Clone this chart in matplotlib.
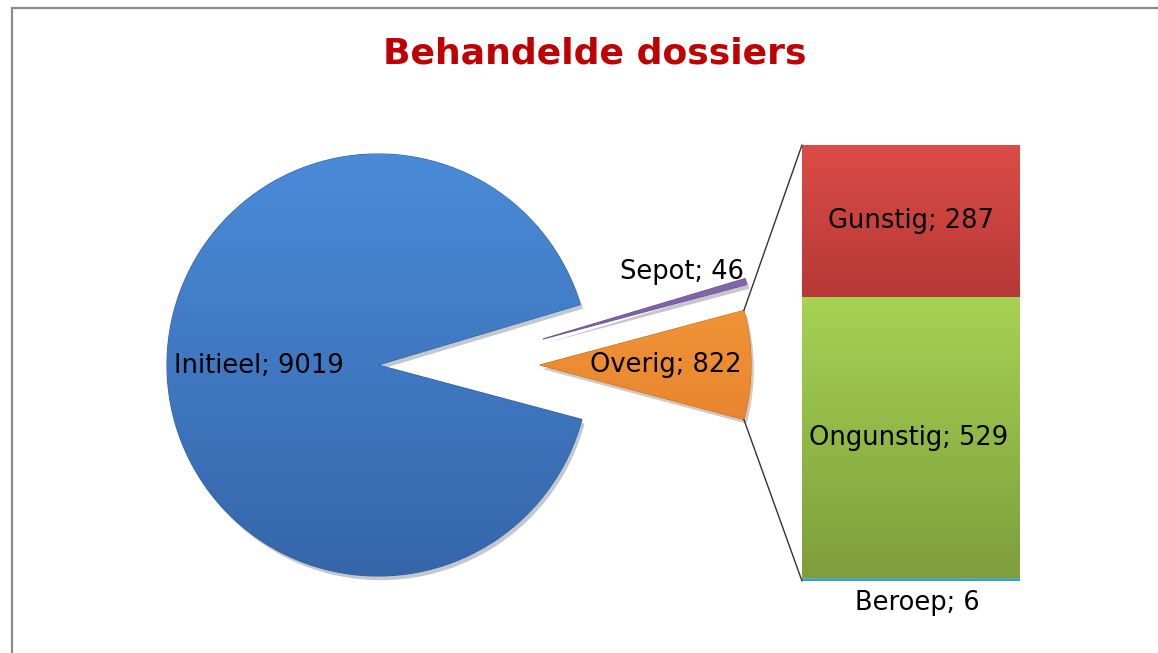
import matplotlib
matplotlib.use("Agg")
import matplotlib.pyplot as plt
import matplotlib.patheffects as pe
from matplotlib.colors import to_rgb
from matplotlib.patches import ConnectionPatch, Rectangle
import numpy as np

# data
pie_labels = ["Overig", "Sepot", "Initieel"]
pie_values = [822, 46, 9019]
pie_colors = ["#F58A2E", "#7F63A8", "#3E7DCB"]

bar_labels = ["Beroep", "Ongunstig", "Gunstig"]
bar_values = [6, 529, 287]
bar_colors = ["#4BACC6", "#8DB544", "#CF4441"]

# top / bottom shade for the gradient fill
shades = {
    "#F58A2E": ("#FBA547", "#DD7420"),
    "#7F63A8": ("#8E72B8", "#6A4F90"),
    "#3E7DCB": ("#4A8BD8", "#3666AA"),
    "#4BACC6": ("#5BBAD4", "#3A93AC"),
    "#8DB544": ("#A5D252", "#7E9E3C"),
    "#CF4441": ("#DC4C48", "#B53935"),
}


def grad_fill(axis, patch, extent, color):
    top, bot = (np.array(to_rgb(c)) for c in shades[color])
    t = np.linspace(0, 1, 64)[:, None]
    img = (top * (1 - t) + bot * t)[:, None, :]
    im = axis.imshow(img, extent=extent, aspect="auto", origin="upper",
                     interpolation="bilinear", zorder=patch.get_zorder() + 0.01)
    im.set_clip_path(patch)


W, H = 1158, 653
fig = plt.figure(figsize=(W / 100, H / 100), dpi=100)
fig.patch.set_facecolor("white")

# chart border
fig.patches.append(Rectangle((12 / W, -0.05), 1.1, 1 - 8 / H + 0.05,
                             transform=fig.transFigure, fill=False,
                             edgecolor="#8c8c8c", linewidth=1.6))

fig.text(595 / W, 1 - 53 / H, "Behandelde dossiers", ha="center", va="center",
         fontsize=26, fontweight="bold", color="#C00000")

# pie, in pixel units
ax = fig.add_axes([0, 0, 1, 1])

cx, cy, r = 378, H - 365, 211
total = sum(pie_values)
start = -pie_values[0] / total * 360 / 2
shadow = [pe.SimplePatchShadow(offset=(2, -3), alpha=0.25), pe.Normal()]
wedges, _ = ax.pie(pie_values, colors=pie_colors, startangle=start,
                   center=(cx, cy), radius=r, explode=[162, 0, 0],
                   wedgeprops=dict(linewidth=0.8, edgecolor="#2f5f9e"))
wedges[0].set_edgecolor("#c86a1a")
wedges[1].set_edgecolor("#6a4f90")
# sepot slice pulled out separately
wedges[1].set_center((cx + 165, cy + 26))
for w, col in zip(wedges, pie_colors):
    w.set_path_effects(shadow)
    wx, wy = w.center
    grad_fill(ax, w, [wx - r, wx + r, wy - r, wy + r], col)

ax.set_xlim(0, W)
ax.set_ylim(0, H)
ax.set_aspect("equal")
ax.axis("off")

fs = 18.5
ax.text(259, H - 366, f"{pie_labels[2]}; {pie_values[2]}", ha="center", va="center", fontsize=fs, zorder=5)
ax.text(682, H - 272, f"{pie_labels[1]}; {pie_values[1]}", ha="center", va="center", fontsize=fs, zorder=5)
ax.text(666, H - 365, f"{pie_labels[0]}; {pie_values[0]}", ha="center", va="center", fontsize=fs, zorder=5)

# bar of the "Overig" part
ax2 = fig.add_axes([802 / W, (H - 581) / H, 218 / W, 436 / H])
bottom = 0
for lab, val, col in zip(bar_labels, bar_values, bar_colors):
    bars = ax2.bar(0.5, val, width=1, bottom=bottom, color=col, edgecolor=col,
                   linewidth=0.5, path_effects=shadow)
    grad_fill(ax2, bars[0], [0, 1, bottom, bottom + val], col)
    bottom += val
ax2.set_xlim(0, 1)
ax2.set_ylim(0, sum(bar_values))
ax2.axis("off")

ax2.text(0.49, 6 + 529 / 2, f"{bar_labels[1]}; {bar_values[1]}", ha="center", va="center", fontsize=fs, zorder=5)
ax2.text(0.5, 535 + 287 / 2, f"{bar_labels[2]}; {bar_values[2]}", ha="center", va="center", fontsize=fs, zorder=5)
ax2.text(0.53, -42, f"{bar_labels[0]}; {bar_values[0]}", ha="center", va="center", fontsize=fs, clip_on=False)

# connector lines from the Overig slice to the bar
ocx, ocy = wedges[0].center
for ang, yb in [(wedges[0].theta2, sum(bar_values)), (wedges[0].theta1, 0)]:
    a = np.deg2rad(ang)
    con = ConnectionPatch(xyA=(ocx + r * np.cos(a), ocy + r * np.sin(a)), coordsA=ax.transData,
                          xyB=(0, yb), coordsB=ax2.transData, color="#333333", linewidth=1)
    fig.add_artist(con)

fig.savefig("out.png", dpi=100)
